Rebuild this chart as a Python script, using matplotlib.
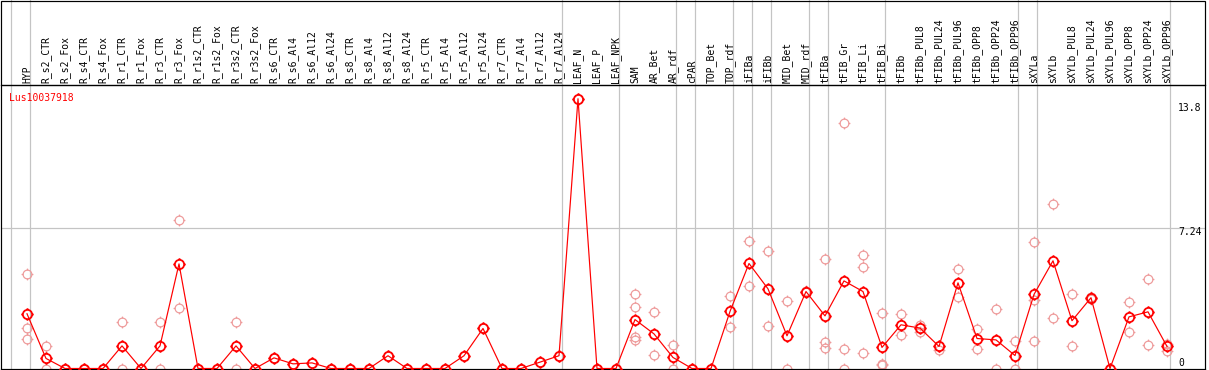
import numpy as np
import matplotlib
matplotlib.use("Agg")
import matplotlib.pyplot as plt
from matplotlib.path import Path
from matplotlib.patches import Rectangle

gene = "Lus10037918"

samples = [
    "HYP", "R_s2_CTR", "R_s2_Fox", "R_s4_CTR", "R_s4_Fox", "R_r1_CTR", "R_r1_Fox",
    "R_r3_CTR", "R_r3_Fox", "R_r1s2_CTR", "R_r1s2_Fox", "R_r3s2_CTR", "R_r3s2_Fox",
    "R_s6_CTR", "R_s6_Al4", "R_s6_Al12", "R_s6_Al24", "R_s8_CTR", "R_s8_Al4",
    "R_s8_Al12", "R_s8_Al24", "R_r5_CTR", "R_r5_Al4", "R_r5_Al12", "R_r5_Al24",
    "R_r7_CTR", "R_r7_Al4", "R_r7_Al12", "R_r7_Al24", "LEAF_N", "LEAF_P", "LEAF_NPK",
    "SAM", "AR_Bet", "AR_rdf", "cPAR", "TOP_Bet", "TOP_rdf", "iFIBa", "iFIBb",
    "MID_Bet", "MID_rdf", "tFIBa", "tFIB_Gr", "tFIB_Li", "tFIB_Bi", "tFIBb",
    "tFIBb_PUL8", "tFIBb_PUL24", "tFIBb_PUL96", "tFIBb_OPP8", "tFIBb_OPP24",
    "tFIBb_OPP96", "sXYLa", "sXYLb", "sXYLb_PUL8", "sXYLb_PUL24", "sXYLb_PUL96",
    "sXYLb_OPP8", "sXYLb_OPP24", "sXYLb_OPP96",
]

means = [
    2.83, 0.52, 0, 0, 0, 1.17, 0, 1.17, 5.41, 0, 0, 1.17, 0,
    0.55, 0.24, 0.29, 0, 0, 0, 0.66, 0, 0, 0, 0.66, 2.07,
    0, 0, 0.33, 0.66, 13.95, 0, 0,
    2.53, 1.79, 0.57, 0, 0, 2.95, 5.43, 4.12,
    1.69, 3.98, 2.72, 4.53, 3.98, 1.09, 2.26,
    2.09, 1.14, 4.43, 1.55, 1.48, 0.67,
    3.83, 5.57, 2.47, 3.66, 0, 2.67, 2.93, 1.14,
]

replicates = [
    [4.90, 2.10, 1.55], [1.14, 0], [0, 0], [0, 0], [0, 0], [2.41, 0], [0, 0],
    [2.41, 0], [7.69, 3.14], [0, 0], [0, 0], [2.41, 0], [0, 0],
    [0.55], [0.24], [0.29], [0, 0], [0, 0], [0, 0], [0.66], [0, 0], [0, 0], [0, 0],
    [0.66], [2.07], [0, 0], [0, 0], [0.33], [0.66], [13.95], [0, 0], [0, 0],
    [3.86, 3.19, 1.65, 1.45], [2.93, 0.71], [1.22, 0], [0, 0], [0, 0],
    [3.74, 2.16], [6.60, 4.28], [6.09, 2.21],
    [3.50, 0], [4.0, 3.95], [5.67, 1.38, 1.07], [12.67, 1.02, 0],
    [5.88, 5.26, 0.81], [2.88, 0.24, 0.20], [2.83, 1.74],
    [2.24, 1.90], [1.14, 0.98], [5.15, 3.69], [2.02, 1.00], [3.09, 0], [1.43, 0],
    [6.55, 3.55, 1.43], [8.52, 2.62], [3.86, 1.14], [3.72, 3.60], [0, 0],
    [3.45, 1.91], [4.64, 1.22], [1.28, 0.93],
]

# last sample index of each group (separators drawn after these)
group_ends = [-1, 0, 28, 31, 34, 35, 37, 38, 39, 41, 42, 45, 52, 53, 60]

scale_ticks = [13.8, 7.24, 0]
scale_labels = ["13.8", "7.24", "0"]

W, H = 1209, 370
PX = 1 / 100 * 72  # one pixel in points

# circle marker with four little ticks
circ = Path.unit_circle()
tick_verts = [(0, 1), (0, 1.35), (0, -1), (0, -1.35), (1, 0), (1.35, 0), (-1, 0), (-1.35, 0)]
tick_codes = [Path.MOVETO, Path.LINETO] * 4
ring = Path.make_compound_path(circ, Path(tick_verts, tick_codes))

fig = plt.figure(figsize=(W / 100, H / 100), dpi=100)
ax = fig.add_axes([1 / W, 1 / H, 1204 / W, 284 / H])

x = np.arange(len(samples))
ax.set_xlim((1 - 27) / 19, (1205 - 27) / 19)
ax.set_ylim(-0.5 / 19.34, (368.5 - 85) / 19.34)
ax.set_xticks([])
ax.set_yticks([])
for s in ax.spines.values():
    s.set_linewidth(PX * 1.2)
    s.set_color("black")

grey = "#c4c4c4"
ax.axhline(7.24, color=grey, lw=PX * 1.2, zorder=1)
for g in group_ends:
    ax.axvline(g + 0.18, ymin=0, ymax=369 / 284, color=grey, lw=PX * 1.2,
               zorder=1, clip_on=False)

# header frame
fig.add_artist(Rectangle((1 / W, (370 - 85) / H), 1204 / W, 84.5 / H,
                         transform=fig.transFigure, fill=False,
                         edgecolor="black", lw=PX * 1.2))

mono = "DejaVu Sans Mono"
for i, name in enumerate(samples):
    ax.annotate(name, xy=(i, 1), xycoords=("data", "axes fraction"),
                xytext=(0, 2), textcoords="offset pixels", rotation=90,
                ha="center", va="bottom", fontsize=7, family=mono)

# replicates
for i, reps in enumerate(replicates):
    ax.plot([i] * len(reps), reps, linestyle="none", marker=ring, markersize=8.5,
            markerfacecolor="none", markeredgecolor="#ee9a9a",
            markeredgewidth=PX * 1.2, zorder=2)

ax.plot(x, means, color="red", lw=PX * 1.2, zorder=3)
ax.plot(x, means, linestyle="none", marker=ring, markersize=9,
        markerfacecolor="none", markeredgecolor="red",
        markeredgewidth=PX * 1.8, zorder=4)

offsets = [-9, -7, 3]
for v, lab, off in zip(scale_ticks, scale_labels, offsets):
    ax.annotate(lab, xy=(60.58, v), xytext=(0, off), textcoords="offset pixels",
                ha="left", va="baseline", fontsize=7, family=mono)

ax.text(8 / 1204, (369 - 101) / 284, gene, transform=ax.transAxes, color="red",
        ha="left", va="baseline", fontsize=7, family=mono)

fig.savefig("out.png", dpi=100)
